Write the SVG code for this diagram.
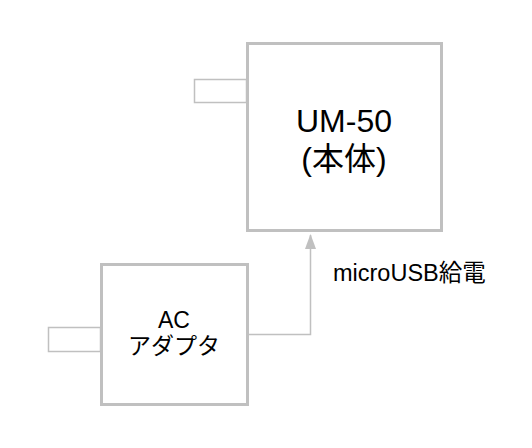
<svg xmlns="http://www.w3.org/2000/svg" width="532" height="448" viewBox="0 0 532 448">
<defs>
<style>
.box{fill:#fff;stroke:#c0c0c0;stroke-width:3}
.tab{fill:#fff;stroke:#c0c0c0;stroke-width:1.5}
.conn{fill:none;stroke:#c0c0c0;stroke-width:1.5}
text{font-family:"Liberation Sans","Noto Sans CJK JP",sans-serif;fill:#000;text-anchor:middle}
</style>
<marker id="arr" markerWidth="15" markerHeight="12" refX="14" refY="6" orient="auto" markerUnits="userSpaceOnUse" viewBox="0 0 15 12">
<path d="M0,0.5 L15,6 L0,11.5 Z" fill="#c0c0c0"/>
</marker>
</defs>
<rect width="532" height="448" fill="#fff"/>
<g id="um50">
<rect class="tab" x="194.5" y="79.5" width="52" height="23"/>
<rect class="box" x="247.5" y="43.5" width="194" height="187"/>
<text x="344" y="132" font-size="32">UM-50</text>
<text x="344" y="170" font-size="32">(本体)</text>
</g>
<g id="acadapter">
<rect class="tab" x="48.5" y="327.5" width="52" height="24"/>
<rect class="box" x="101.5" y="264.5" width="146" height="140"/>
<text x="174" y="328" font-size="23">AC</text>
<text x="174" y="354" font-size="23">アダプタ</text>
</g>
<g id="connectors">
<path class="conn" d="M249,334.5 H310.5 V235" marker-end="url(#arr)"/>
<text x="333" y="281" font-size="23.5" style="text-anchor:start">microUSB給電</text>
</g>
</svg>
